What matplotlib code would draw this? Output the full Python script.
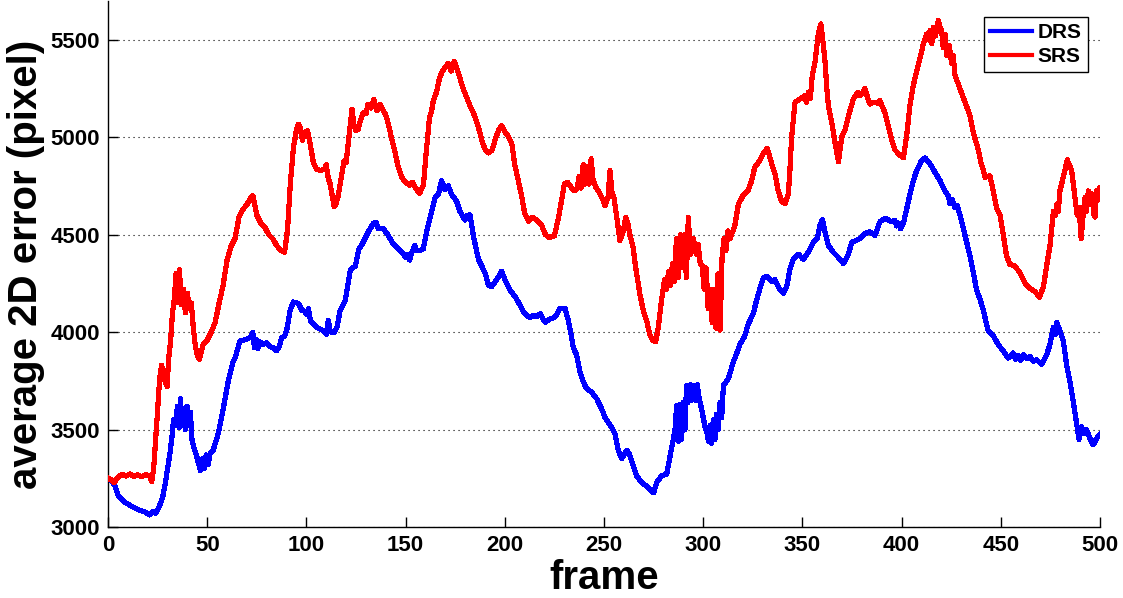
"""Average 2D error per frame for the DRS and SRS trackers."""

import numpy as np
import matplotlib

matplotlib.use("Agg")
import matplotlib.pyplot as plt

# (frame, average 2D error)
SRS_POINTS = [
    (0, 3250), (2, 3240), (3, 3228), (5, 3255), (7, 3270), (9, 3262), (11, 3272), (13, 3260),
    (15, 3268), (17, 3258), (19, 3270), (21, 3262), (22, 3232), (23, 3300), (24, 3450),
    (25, 3600), (26, 3760), (27, 3830), (28, 3780), (29, 3740), (29.8, 3720), (30.5, 3860),
    (31.5, 3950), (32.5, 4100), (33.5, 4180), (34.2, 4300), (35, 4150), (36, 4320), (37, 4140),
    (38, 4220), (39, 4100), (40, 4200), (41, 4120), (42, 4150), (43, 4020), (44, 3930),
    (45, 3880), (46, 3860), (47, 3900), (48, 3940), (50, 3960), (52, 4000), (54, 4050),
    (56, 4150), (58, 4240), (60, 4370), (62, 4440), (64, 4480), (66, 4590), (68, 4630),
    (70, 4655), (72, 4690), (73, 4700), (75, 4600), (77, 4560), (79, 4540), (81, 4500),
    (83, 4480), (85, 4445), (87, 4420), (89, 4410), (90.5, 4530), (92, 4780), (93.5, 4950),
    (95, 5040), (96, 5068), (97, 5050), (98, 4985), (99, 5020), (100.5, 5035), (102, 4960),
    (103.5, 4870), (105, 4838), (107, 4830), (109, 4835), (110, 4860), (111, 4790), (112, 4760),
    (113, 4700), (114, 4645), (115, 4660), (116, 4700), (117.5, 4790), (119, 4880), (120, 4870),
    (121, 4960), (122, 5050), (123, 5145), (124, 5060), (125, 5035), (126, 5040), (127, 5080),
    (128.5, 5125), (130, 5120), (131, 5170), (132.5, 5150), (134, 5195), (135.5, 5136),
    (137, 5170), (138, 5150), (140, 5115), (141.5, 5060), (143, 4990), (144.5, 4930),
    (146, 4860), (148, 4795), (150, 4770), (152, 4755), (153.5, 4770), (155, 4740), (157, 4712),
    (159, 4755), (160, 4880), (161, 4990), (162, 5100), (163, 5130), (164, 5190), (165.5, 5230),
    (167, 5300), (168.5, 5340), (170, 5360), (171.5, 5380), (173, 5340), (174.5, 5390),
    (176, 5350), (177.5, 5300), (179, 5250), (181, 5200), (182.5, 5160), (184, 5130),
    (185.5, 5090), (187, 5040), (188.5, 4980), (190, 4940), (191.5, 4920), (193.5, 4932),
    (195.5, 5000), (197, 5040), (198.5, 5060), (200, 5030), (202, 5000), (203.5, 4970),
    (205, 4860), (206.8, 4777), (208.5, 4699), (210, 4610), (212, 4570), (214, 4590),
    (216, 4575), (218.5, 4550), (220.5, 4500), (222.5, 4485), (225, 4495), (227, 4585),
    (228.5, 4670), (230, 4760), (231.5, 4770), (233, 4750), (235, 4725), (236.5, 4740),
    (237.5, 4800), (238.5, 4740), (239.5, 4860), (240.5, 4760), (241.5, 4850), (242.5, 4760),
    (243.5, 4890), (244.5, 4780), (246, 4742), (247.5, 4720), (249, 4690), (250.5, 4650),
    (252, 4690), (253, 4830), (254, 4720), (255, 4690), (256.5, 4585), (258, 4470),
    (259.5, 4510), (261, 4590), (262, 4560), (263, 4500), (264.5, 4445), (266, 4330),
    (268, 4200), (269.8, 4110), (271.5, 4060), (273, 3990), (274.5, 3960), (276, 3950),
    (277.3, 4020), (279, 4164), (280.5, 4270), (281.5, 4220), (282.5, 4310), (283.5, 4240),
    (284.5, 4350), (285.5, 4260), (286.5, 4480), (287.5, 4280), (288.5, 4500), (289.5, 4330),
    (290.5, 4500), (291.5, 4280), (292.5, 4590), (293.5, 4400), (295, 4480), (296.5, 4400),
    (297.5, 4450), (298.5, 4350), (299.5, 4340), (300.5, 4220), (301.5, 4330), (302.5, 4120),
    (303.5, 4220), (304.5, 4050), (305.5, 4220), (306.5, 4020), (307.5, 4300), (308.5, 4010),
    (309.5, 4380), (310.5, 4480), (311.5, 4420), (312.5, 4520), (313.5, 4480), (315, 4520),
    (316, 4550), (317.7, 4655), (320, 4700), (322.5, 4725), (324.4, 4777), (326, 4847),
    (328.6, 4882), (330.3, 4917), (332.3, 4945), (334.5, 4865), (336.2, 4812), (337.8, 4725),
    (339.5, 4672), (341.2, 4660), (342.9, 4707), (343.7, 4830), (344.6, 5005), (346.3, 5180),
    (348.8, 5197), (351.3, 5215), (352, 5180), (353, 5230), (354, 5200), (355, 5320),
    (356.4, 5390), (358, 5530), (359.3, 5582), (360.5, 5480), (361.5, 5380), (362.3, 5250),
    (363.1, 5162), (364.8, 5075), (366.5, 4970), (368.2, 4875), (369.8, 5000), (371.5, 5040),
    (373.2, 5110), (375.7, 5197), (378, 5232), (379, 5215), (380.5, 5230), (381.5, 5250),
    (383, 5200), (384, 5171), (386, 5180), (388, 5175), (389, 5190), (391.6, 5127),
    (393.3, 5057), (395, 4987), (396.7, 4935), (399.2, 4908), (400.9, 4895), (402.5, 5005),
    (404.2, 5162), (405.9, 5267), (407.6, 5337), (409.3, 5407), (410.9, 5477), (412.6, 5530),
    (413.5, 5500), (414.3, 5548), (415.2, 5480), (416, 5565), (417, 5520), (418.5, 5600),
    (419.5, 5560), (420.2, 5548), (421, 5460), (422, 5530), (422.7, 5420), (424, 5470),
    (425.2, 5380), (426, 5420), (426.9, 5320), (429.4, 5250), (432, 5180), (434.5, 5110),
    (436.2, 5022), (438.7, 4935), (440, 4870), (441.2, 4830), (442, 4795), (444.5, 4803),
    (446.2, 4725), (447.9, 4637), (449.6, 4602), (451.3, 4497), (452.9, 4392), (454.6, 4348),
    (457, 4340), (459.7, 4305), (462.2, 4252), (464.7, 4225), (467.3, 4208), (469.5, 4178),
    (471.5, 4234), (473.1, 4340), (474.8, 4445), (476.5, 4620), (477.5, 4600), (478.2, 4655),
    (479, 4620), (479.8, 4725), (481.5, 4795), (483.5, 4885), (485.7, 4830), (487.4, 4690),
    (488.5, 4600), (489.5, 4640), (490.5, 4480), (491.5, 4600), (492.4, 4690), (493.2, 4620),
    (494.1, 4725), (495, 4680), (495.8, 4710), (497, 4600), (497.5, 4590), (498.3, 4725),
    (499, 4680), (500, 4742),
]

DRS_POINTS = [
    (0, 3250), (1.5, 3240), (3.5, 3210), (5, 3165), (6.5, 3145), (8, 3130), (10, 3118),
    (12, 3105), (14, 3095), (16, 3085), (18, 3080), (19.5, 3072), (21, 3062), (22.5, 3080),
    (24, 3070), (26, 3110), (27.5, 3150), (28.8, 3220), (30, 3300), (31.2, 3376), (32.3, 3470),
    (33, 3551), (34, 3520), (35, 3620), (35.8, 3510), (36.5, 3660), (37.3, 3520), (38.1, 3604),
    (39, 3500), (39.8, 3620), (40.6, 3520), (41.5, 3590), (42.3, 3450), (43.5, 3400),
    (44.8, 3359), (46, 3310), (46.5, 3290), (47.5, 3350), (48.5, 3300), (49.5, 3370),
    (50.5, 3320), (51.5, 3380), (53, 3394), (55.6, 3481), (58, 3604), (60.5, 3744), (63, 3849),
    (64, 3867), (66.5, 3955), (68.5, 3960), (70, 3965), (72, 3975), (73, 3998), (73.8, 3920),
    (74.8, 3960), (75.5, 3915), (76.5, 3950), (78.3, 3937), (80, 3945), (82, 3925),
    (83.3, 3919), (85, 3905), (86.5, 3930), (87.5, 3972), (89, 3980), (90, 4007), (91.8, 4112),
    (93.4, 4155), (95, 4150), (96, 4147), (97.7, 4112), (99, 4108), (100.2, 4090), (101, 4120),
    (102, 4060), (102.7, 4051), (105.2, 4024), (107, 4015), (108.6, 4007), (110, 3990),
    (111, 4060), (112, 4005), (112.8, 3998), (114, 4000), (115.4, 4024), (117, 4112),
    (119.6, 4164), (121, 4250), (122.2, 4322), (124.7, 4340), (126.4, 4427), (128, 4450),
    (131.2, 4515), (133.7, 4558), (135, 4565), (136.2, 4532), (138.7, 4532), (141.2, 4497),
    (143.8, 4453), (146.3, 4427), (148.8, 4401), (150, 4385), (151.4, 4400), (152, 4370),
    (153.1, 4410), (154.7, 4445), (155.5, 4420), (157.2, 4418), (158.9, 4427), (160.6, 4515),
    (163.1, 4620), (164.8, 4690), (166.5, 4707), (168.1, 4777), (169.8, 4733), (171.5, 4751),
    (173.2, 4707), (175.7, 4672), (177.4, 4620), (179.9, 4576), (181, 4600), (182.5, 4602),
    (184.1, 4497), (186.7, 4374), (189.2, 4322), (190.5, 4290), (191.7, 4243), (193.4, 4234),
    (195.9, 4269), (198.4, 4313), (200.1, 4269), (202.6, 4217), (205.2, 4182), (207.7, 4138),
    (209, 4110), (211, 4086), (212.5, 4075), (214.4, 4086), (216, 4080), (217.8, 4094),
    (220.3, 4051), (222.8, 4068), (225.3, 4077), (227.8, 4121), (230.4, 4121), (232, 4060),
    (233.7, 3972), (234.5, 3920), (236.2, 3884), (237.9, 3797), (239.6, 3744), (241.3, 3709),
    (243.8, 3692), (246.4, 3657), (248.9, 3604), (250.6, 3560), (253, 3525), (255.5, 3481),
    (257.2, 3394), (258.9, 3350), (260, 3370), (261.4, 3394), (262.5, 3380), (263.9, 3341),
    (266.4, 3263), (269, 3228), (271.5, 3210), (274, 3184), (275, 3175), (276.5, 3228),
    (279, 3263), (281.6, 3271), (283.2, 3359), (284.9, 3447), (285.8, 3500), (286.6, 3622),
    (287.4, 3440), (288.3, 3630), (289.1, 3450), (290, 3640), (290.8, 3500), (291.6, 3727),
    (292.4, 3640), (293.4, 3730), (294.2, 3650), (295, 3725), (296, 3650), (297, 3730),
    (298, 3660), (299.2, 3604), (300.9, 3516), (302, 3480), (302.6, 3440), (303.4, 3520),
    (304.2, 3430), (305.1, 3551), (306, 3450), (306.8, 3580), (307.6, 3500), (308.5, 3639),
    (309.3, 3560), (310.2, 3727), (312.7, 3762), (315.2, 3849), (316, 3867), (318.5, 3937),
    (321, 3981), (322.7, 4042), (325.2, 4094), (326.9, 4164), (328.6, 4225), (330.3, 4278),
    (331.9, 4287), (334.5, 4260), (336.2, 4269), (338.7, 4217), (340.4, 4200), (342.1, 4234),
    (343.7, 4322), (345.4, 4374), (347.9, 4401), (350.4, 4374), (353, 4410), (355.5, 4462),
    (357.5, 4480), (358.9, 4550), (360.1, 4578), (361.4, 4515), (363.1, 4445), (365.6, 4410),
    (368.2, 4383), (370.7, 4352), (373.2, 4401), (374.9, 4462), (377, 4470), (379, 4480),
    (381.5, 4506), (384, 4515), (386.6, 4497), (389.1, 4567), (391.6, 4585), (395, 4567),
    (396.5, 4575), (397.5, 4545), (398.4, 4560), (399.5, 4530), (400.9, 4558), (402.5, 4629),
    (404.2, 4707), (405.9, 4777), (407.6, 4830), (410.1, 4882), (411.8, 4895), (414.3, 4865),
    (416.8, 4821), (419.4, 4777), (421.9, 4725), (423.5, 4700), (424.4, 4660), (425.5, 4680),
    (426.9, 4640), (428, 4650), (429.4, 4602), (431.1, 4532), (432.8, 4462), (434.5, 4392),
    (436.2, 4305), (437.8, 4217), (439.5, 4170), (441.2, 4112), (442, 4077), (443.7, 4007),
    (446.2, 3981), (448.7, 3937), (451.3, 3902), (453.8, 3867), (456.3, 3893), (457.5, 3860),
    (458.8, 3880), (460, 3855), (461.3, 3884), (463, 3865), (464.7, 3875), (466.5, 3850),
    (468.1, 3858), (470.6, 3835), (472, 3860), (473.1, 3884), (474.8, 3937), (476.5, 4024),
    (477.5, 3990), (478.2, 4050), (479.8, 4007), (481.5, 3955), (483.2, 3832), (484.9, 3744),
    (486.6, 3639), (488.2, 3534), (489.4, 3450), (490, 3500), (490.7, 3516), (492, 3480),
    (493.3, 3499), (494.9, 3455), (496.6, 3422), (498.3, 3455), (500, 3473),
]

SERIES_LABELS = ["DRS", "SRS"]
SERIES_COLORS = ["#0000ff", "#ff0000"]
X_TICKS = [0, 50, 100, 150, 200, 250, 300, 350, 400, 450, 500]
Y_TICKS = [3000, 3500, 4000, 4500, 5000, 5500]

FONT = "Liberation Sans"


def main() -> None:
    fig = plt.figure(figsize=(11.23, 5.98), dpi=100)
    ax = fig.add_axes([0.0962, 0.1187, 0.8833, 0.8797])

    # old MATLAB export look: thick, non-antialiased lines
    for points, label, color in zip((DRS_POINTS, SRS_POINTS), SERIES_LABELS, SERIES_COLORS):
        data = np.array(points, dtype=float)
        ax.plot(data[:, 0], data[:, 1], color=color, linewidth=3.0, label=label,
                antialiased=False, zorder=3)

    ax.set_xlim(0, 500)
    ax.set_ylim(3000, 5700)
    ax.set_xticks(X_TICKS)
    ax.set_yticks(Y_TICKS)

    ax.yaxis.grid(True, linestyle=(0, (1, 3.5)), color="black", linewidth=0.8)
    ax.set_axisbelow(True)

    for side in ("top", "right"):
        ax.spines[side].set_visible(False)
    for side in ("left", "bottom"):
        ax.spines[side].set_linewidth(1.0)

    ax.tick_params(direction="in", length=7, width=1.0, pad=6, colors="black")
    for lab in ax.get_xticklabels() + ax.get_yticklabels():
        lab.set_fontfamily(FONT)
        lab.set_fontweight("bold")
        lab.set_fontsize(16)

    ax.set_xlabel("frame", fontfamily=FONT, fontweight="bold", fontsize=29, labelpad=2)
    ax.set_ylabel("average 2D error (pixel)", fontfamily=FONT, fontweight="bold",
                  fontsize=29, labelpad=4)

    legend = ax.legend(loc="upper right", bbox_to_anchor=(0.988, 0.97), borderaxespad=0,
                       fancybox=False, framealpha=1, edgecolor="black", handlelength=2.0,
                       handletextpad=0.3, labelspacing=0.25, borderpad=0.3,
                       prop={"family": FONT, "weight": "bold", "size": 15})
    legend.get_frame().set_linewidth(1.0)

    fig.savefig("out.png", dpi=100)
    plt.close(fig)


if __name__ == "__main__":
    main()
